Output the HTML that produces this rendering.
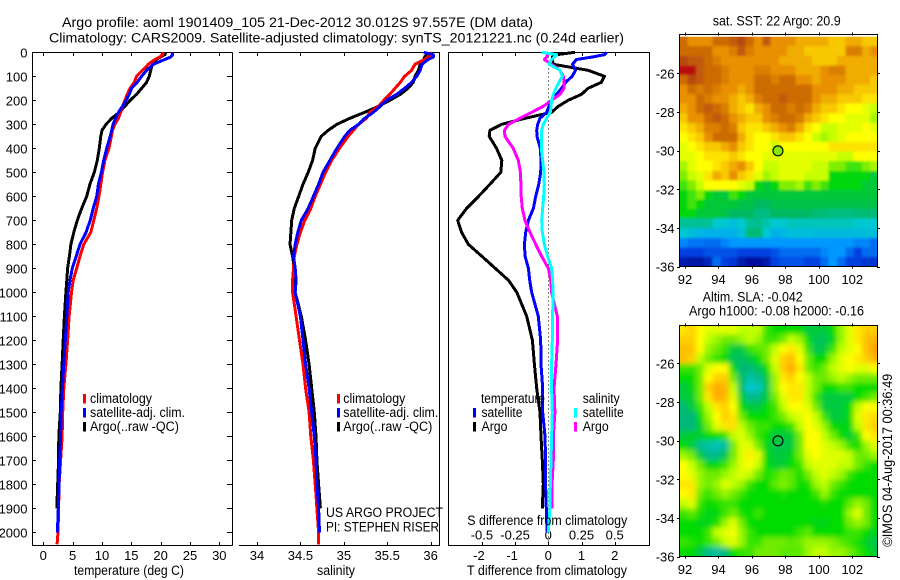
<!DOCTYPE html>
<html lang="en">
<head>
<meta charset="utf-8">
<title>Argo profile 1901409_105</title>
<style>
html,body{margin:0;padding:0;background:#fff;width:900px;height:580px;overflow:hidden}
svg{display:block}
text{font-family:"Liberation Sans",sans-serif;font-size:13.5px;fill:#000}
.tick{font-size:13px}
</style>
</head>
<body>
<svg id="chart" xmlns="http://www.w3.org/2000/svg" width="900" height="580" viewBox="0 0 900 580">
<defs>
<clipPath id="sstClip"><rect x="680" y="36.7" width="197.5" height="229.8"/></clipPath>
<clipPath id="slaClip"><rect x="680" y="325" width="197.5" height="231.5"/></clipPath>
<filter id="smooth" x="-5%" y="-5%" width="110%" height="110%"><feGaussianBlur stdDeviation="2.6"/></filter>
<filter id="soft" x="-5%" y="-5%" width="110%" height="110%"><feGaussianBlur stdDeviation="1.4"/></filter>
</defs>
<rect width="900" height="580" fill="#fff"/>
<text x="62" y="27" textLength="471" lengthAdjust="spacingAndGlyphs">Argo profile: aoml 1901409_105 21-Dec-2012 30.012S 97.557E (DM data)</text>
<text x="49" y="42.5" textLength="575" lengthAdjust="spacingAndGlyphs">Climatology: CARS2009. Satellite-adjusted climatology: synTS_20121221.nc (0.24d earlier)</text>

<g id="gT"></g>
<g id="gS"></g>
<g id="gD"></g>
<g id="gM1"></g>
<g id="gM2"></g>

<text x="74" y="575" textLength="110" lengthAdjust="spacingAndGlyphs">temperature (deg C)</text>
<text x="317" y="575" textLength="38" lengthAdjust="spacingAndGlyphs">salinity</text>
<text x="467" y="575" textLength="160" lengthAdjust="spacingAndGlyphs">T difference from climatology</text>
<text x="467.3" y="525" textLength="160" lengthAdjust="spacingAndGlyphs">S difference from climatology</text>

<g>
<rect x="83" y="394" width="3" height="9.5" fill="#f00"/>
<text x="90" y="403" textLength="62" lengthAdjust="spacingAndGlyphs">climatology</text>
<rect x="83" y="408" width="3" height="9.5" fill="#00f"/>
<text x="90" y="417" textLength="95" lengthAdjust="spacingAndGlyphs">satellite-adj. clim.</text>
<rect x="83" y="422" width="3" height="9.5" fill="#000"/>
<text x="90" y="431" textLength="89" lengthAdjust="spacingAndGlyphs">Argo(..raw -QC)</text>
</g>
<g>
<rect x="337" y="394" width="3" height="9.5" fill="#f00"/>
<text x="343.3" y="403" textLength="62" lengthAdjust="spacingAndGlyphs">climatology</text>
<rect x="337" y="408" width="3" height="9.5" fill="#00f"/>
<text x="343.3" y="417" textLength="95" lengthAdjust="spacingAndGlyphs">satellite-adj. clim.</text>
<rect x="337" y="422" width="3" height="9.5" fill="#000"/>
<text x="343.3" y="431" textLength="89" lengthAdjust="spacingAndGlyphs">Argo(..raw -QC)</text>
</g>
<text x="326" y="517" textLength="117" lengthAdjust="spacingAndGlyphs">US ARGO PROJECT</text>
<text x="326" y="531.7" textLength="113" lengthAdjust="spacingAndGlyphs">PI: STEPHEN RISER</text>
<g>
<text x="481" y="403" textLength="64" lengthAdjust="spacingAndGlyphs">temperature</text>
<rect x="473" y="408" width="3" height="9.5" fill="#00f"/>
<text x="481.5" y="417" textLength="41" lengthAdjust="spacingAndGlyphs">satellite</text>
<rect x="473" y="422" width="3" height="9.5" fill="#000"/>
<text x="481.5" y="431" textLength="26" lengthAdjust="spacingAndGlyphs">Argo</text>
<text x="582.7" y="403" textLength="37" lengthAdjust="spacingAndGlyphs">salinity</text>
<rect x="574" y="408" width="3" height="9.5" fill="#0ff"/>
<text x="582.7" y="417" textLength="41" lengthAdjust="spacingAndGlyphs">satellite</text>
<rect x="574" y="422" width="3" height="9.5" fill="#f0f"/>
<text x="582.7" y="431" textLength="26" lengthAdjust="spacingAndGlyphs">Argo</text>
</g>
<text x="712.7" y="25.7" textLength="128" lengthAdjust="spacingAndGlyphs">sat. SST: 22 Argo: 20.9</text>
<text x="702.7" y="301.7" textLength="100" lengthAdjust="spacingAndGlyphs">Altim. SLA: -0.042</text>
<text x="689" y="315.7" textLength="175" lengthAdjust="spacingAndGlyphs">Argo h1000: -0.08 h2000: -0.16</text>
<text transform="translate(892,546.7) rotate(-90)" textLength="173" lengthAdjust="spacingAndGlyphs">©IMOS 04-Aug-2017 00:36:49</text>
</svg>
<script>
// ---- profile data ----
const depths = [0,10,20,30,50,75,100,125,150,175,200,225,250,275,300,325,350,400,450,500,550,600,650,700,750,800,850,900,950,1000,1100,1200,1300,1400,1500,1600,1700,1800,1900,2000,2050];
const depthTicks = [0,100,200,300,400,500,600,700,800,900,1000,1100,1200,1300,1400,1500,1600,1700,1800,1900,2000];

const tempClim = [20.45,20.3,19.8,19,17.9,16.9,15.9,15.5,14.8,14.3,13.9,13.5,13.2,12.8,12.2,11.8,11.6,11.2,10.5,10.1,9.8,9.5,9.1,8.6,8.1,6.9,6.25,5.7,5.1,4.8,4.4,4.15,3.85,3.5,3.3,3.2,2.95,2.7,2.6,2.5,2.35];
const tempSat = [22.05,22.05,21.7,20.7,18.75,17.6,16.75,16,15.05,14.65,14.1,13.5,12.8,12.3,11.9,11.65,11.4,10.8,10.3,9.9,9.4,9.1,8.5,8,7.3,6.25,5.6,4.95,4.55,4.25,4,3.75,3.5,3.25,3.05,2.95,2.8,2.7,2.55,2.4];
const tempArgo = [20.85,20.75,19.9,19.3,18.6,18.3,18.05,17.6,16.75,15.9,14.8,13.9,12.95,11.65,10.7,10,9.8,9.55,9.2,8.7,7.95,7.4,6.55,5.8,5.2,4.7,4.45,4.15,4,3.85,3.6,3.4,3.2,3,2.9,2.65,2.6,2.45,2.3];

const salClim = [35.99,36.01,35.97,35.93,35.82,35.78,35.7,35.65,35.59,35.53,35.46,35.4,35.3,35.26,35.17,35.11,35.05,34.95,34.86,34.79,34.73,34.67,34.62,34.55,34.5,34.46,34.43,34.42,34.41,34.41,34.45,34.49,34.53,34.56,34.6,34.62,34.65,34.67,34.69,34.71,34.71];
const salSat = [35.92,36.03,36.03,35.97,35.9,35.88,35.84,35.78,35.7,35.61,35.49,35.42,35.34,35.24,35.17,35.07,35.01,34.92,34.84,34.76,34.71,34.65,34.59,34.51,34.47,34.44,34.42,34.44,34.45,34.44,34.5,34.53,34.56,34.6,34.63,34.66,34.68,34.69,34.71,34.72];
const salArgo = [35.97,35.95,35.93,35.92,35.88,35.86,35.82,35.8,35.74,35.65,35.53,35.4,35.24,35.07,34.92,34.82,34.74,34.67,34.64,34.59,34.53,34.48,34.43,34.4,34.39,34.38,34.41,34.43,34.43,34.44,34.51,34.56,34.6,34.63,34.66,34.68,34.69,34.71,34.73];

const diffTSat = [1.76,1.69,1.31,0.85,0.73,0.82,0.72,0.52,0.4,0.25,0.1,0.02,-0.05,-0.25,-0.32,-0.35,-0.34,-0.24,-0.22,-0.23,-0.29,-0.38,-0.45,-0.6,-0.68,-0.72,-0.7,-0.6,-0.56,-0.5,-0.3,-0.23,-0.22,-0.17,-0.17,-0.1,-0.08,-0.08,-0.06,-0.03];
const diffTArgo = [0.8,0.25,0.12,0.12,0.15,1.2,1.69,1.6,1.2,1,0.6,0.3,0.1,-0.7,-1.4,-1.76,-1.78,-1.56,-1.4,-1.43,-1.76,-2.1,-2.46,-2.73,-2.61,-2.41,-2,-1.6,-1.2,-0.95,-0.65,-0.48,-0.42,-0.35,-0.25,-0.22,-0.18,-0.15,-0.18];
const diffSSat = [-0.05,0.063,0.045,0.025,0.005,0.088,0.106,0.08,0.058,0.038,0.025,0.02,0.015,-0.013,-0.038,-0.05,-0.053,-0.053,-0.043,-0.033,-0.03,-0.035,-0.043,-0.05,-0.045,-0.03,-0.005,0.025,0.033,0.035,0.033,0.03,0.025,0.025,0.03,0.025,0.02,0.015,0.013,0];
const diffSArgo = [-0.013,-0.005,-0.013,-0.03,0.025,0.088,0.113,0.12,0.118,0.088,0.025,-0.038,-0.126,-0.214,-0.3,-0.33,-0.327,-0.264,-0.226,-0.21,-0.206,-0.204,-0.196,-0.176,-0.138,-0.095,-0.05,0,0.018,0.025,0.068,0.07,0.058,0.043,0.05,0.038,0.038,0.028,0.028];

const tempTicks = [0,5,10,15,20,25,30];
const salTicks = [34,34.5,35,35.5,36];
const diffTTicks = [-2,-1,0,1,2];
const diffSTicks = [-0.5,-0.25,0,0.25,0.5];
const diffSTickLabels = ['-0.5','-0.25','0','0.25','0.5'];

// ---- map data (colour-scale level per cell, rows north to south) ----
const lonTicks = [92,94,96,98,100,102];
const latTicks = [-26,-28,-30,-32,-34,-36];
const argoLon = 97.557;
const argoLat = -30.012;

const sstGrid = [
[11,10,10,10,11,11,11.5,12,11,10,11.5,10,10,10,9.5,9.5,9.5,9.5,9,9,9.5,9.5,9,9],
[11,11,11,11,10,10,10.5,11.5,10.5,10,10,10,10,9.5,9.5,9,9,9,9,9,10.5,10.5,9.5,10],
[12,11.5,11.5,11,10.5,10,10,10,10,10,10,10,9.5,9.5,9.5,9.5,9,9,9,9.5,9.5,9.5,9.5,9.5],
[13,13,11.5,11,11,10.5,10,10,10,10.5,10.5,10,10,10,9.5,9.5,9.5,10,10.5,10.5,9.5,9.5,9.5,9.5],
[11,12,11.5,11,11,10.5,10,10,10,11,11,10.5,11,11,10,10,9.5,10,10,10,9.5,9.5,9.5,9],
[10,11,10.5,11,10.5,10,10,9.5,10,11,11,11,11,11,11,11,10,10,10,9.5,9.5,9,9,9],
[10,10,11,10.5,10,10,9.5,9,9.5,10.5,11,11,11.5,11,11,11,10,9.5,9.5,9,9,9,8.5,8.5],
[9.5,10,11,11.5,11,10.5,9.5,9,8.5,9.5,10,11,11,10.5,11,10.5,9.5,9,9,8.5,8,8,7.5,7],
[9,10,10,11,11.5,11,10,9.5,9,9,10,10.5,11,11,10.5,9.5,9,8.5,8,8,7.5,7.5,7.5,6.5],
[8.5,9,9.5,10.5,10.5,11,10.5,9,8.5,8.5,9,9.5,10,10.5,9.5,8.5,8,7,7,7.5,7.5,7.5,8,7.5],
[8,8.5,9,10,11,11,11,9.5,8.5,8,8,8.5,9,9,8.5,8,7,6.5,7,7.5,8,8,8,8],
[7.5,8,8.5,9,9,9.5,10,9,8.5,8,8,7,8,8,8,8,8,8,8.5,8.5,8.5,8.5,8.5,8.5],
[7.5,7.5,8,8.5,8.5,8.5,9,8.5,8,8,7.5,7.5,7.5,7.5,7.5,7.5,7.5,7.5,7.5,7,7,8,8,8],
[6.5,7.5,8,8,8.5,9,9.5,10,9,8,7,7,7.5,7.5,7.5,7.5,7,7,6,6,5.5,5.5,6,6.5],
[6,7,7.5,8.5,9.5,9,10,9,8.5,7.5,6.5,7,7.5,7.5,7.5,7,7,7,5,5,5,5,5,4.5],
[5.5,6,7,8,8,8,8,7.5,7,5,4.5,5,6,6,6.5,5.5,6,5.5,5,5,5,5,4.5,4.5],
[5,5.5,6,5,4.5,4.5,5.5,5,4.5,4.5,4.5,4.5,4.5,4.5,4.5,4.5,4.5,4.5,4.5,4.5,4.5,4.5,4.5,4.5],
[5,5.5,5,4.5,4.5,4.5,4.5,4.3,4.3,4,4,4.3,4.3,4.3,4.3,4.3,4.3,4.3,4.3,4.3,4.3,4.3,4.3,4.3],
[5,5,4.5,4.5,4.5,4.3,4,4,4,3.7,3.7,4,4,4,4,4,3.8,3.8,3.7,3.7,3.7,3.8,3.8,3.8],
[3.5,3.5,3.5,3.5,3,3,2.8,3,3.5,3.6,3.3,3,3,3.2,3.2,3.2,3.2,3.2,3.2,3.2,3.2,3,3,3],
[3,2.8,2.6,2.5,2.5,2.5,2.5,2.8,3.8,3.8,3,2.5,2.6,2.8,2.8,2.8,2.7,2.7,2.7,2.7,2.7,2.7,2.8,2.8],
[1.8,1.6,1.6,1.5,1.5,1.8,2,2,2,2,2,2,2,2,2,2,2,2,2,2,2,1.8,1.8,1.5],
[1,1,1,1.2,1.2,1.2,1.2,1,1,1,1,1.2,1.5,1.5,1.5,1.5,1.5,1.8,2,2,1.5,1,1.5,1.5],
[0.3,0.2,0.2,0.5,1.5,1,0.8,0.3,0.1,0.1,0.3,1,1.2,1.2,1.2,1,1,1.5,2,1.5,1,1,0.8,0.8]
];

const slaGrid = [
[8.5,9,8,7.5,7.5,7.5,7.5,7,7,7,5.5,5,5,5,5,4.5,4.5,4.5,5,6.5,7.5,8.5,9,9],
[9,9,8,7,6.5,6,6,6.5,7,6.5,5.5,5.5,6,7,6.5,5,4.3,4.3,4.8,6.5,7.5,8.5,9.3,9.5],
[9.3,9.3,8,6.5,6,5.5,4.5,4.5,5.5,5.8,6,7,8,8.5,7.5,5.5,4.3,4.5,5.5,7,7.5,8,9.3,9.8],
[9.3,9,7,6,5.5,5,4.3,4.2,4.5,5,6,7.5,9,9.3,8,6,5,5,6.5,7.5,8,8.5,9,9.5],
[5.5,5.5,6,7.5,8,8,5,4,4,4.3,5,7,9,9.7,8.5,6,5.5,6,7,7.5,8,7.5,7.5,8],
[5,5,6,8,9,9,6,4.2,3.5,3.7,4.5,6.5,8.5,9,8,7,6,6,6.5,7,6.5,6,6,6],
[4.5,4.8,6,9,9.7,9.5,7,4.2,3,3.2,4.3,6.5,8,8.5,8.5,7,6,5,5,5.5,5.5,5,5,5],
[4.5,4.6,6,8.5,9.7,9.5,7.5,4.6,3.8,3.9,4.5,6,7.5,8.5,8.5,7,5.5,4.5,4.5,4.5,4.5,5,5.5,6],
[4,4.5,5.5,7,8.5,9,8,5,4.5,4.5,5,5.5,7,8,8,7.5,6,4.5,4.5,4.5,5,7,8,8],
[4,4,5,6.5,8,9,8.5,6,5,5,5,5.5,6,7,7.5,8,7,5.5,4.5,4.5,5,7.5,8.5,8.7],
[4,4,4.6,6,7.5,8.5,8.7,7,6,5.5,5.5,5,5,5.5,7,8,7.5,6.5,5,4.8,4.8,7,8.5,9],
[4.5,4.7,4.6,5,5,5.5,7,7.5,6.5,5.5,5,4.5,4.5,4.6,6,8,8,7,6,5,4.6,5.5,8,8.5],
[5,4.5,3.7,3.5,3.3,3.6,6,7.5,7.5,6,4.8,4.4,4.4,4.5,6,8,8,7.5,7,6.5,5.5,5,6.5,7.5],
[6.5,6,4.5,3.8,3.8,4.4,6,7.5,8.3,7.5,4.9,4.5,4.5,4.8,6,7.5,8,7.5,7.5,7.5,7,6,6,6.5],
[8,7,6,4.9,4.9,5.5,6.5,7.5,8,7,5,4.6,4.6,5,5.5,7,7.5,7.5,7.5,7,7,6,5.5,5],
[8,7.5,6.5,6,6,6.5,7,7.5,7,6,5.2,5.5,6,5.8,5.2,6,7,7.5,7,6.5,5.5,5,5,5],
[8.5,8.5,6.5,6,6.5,7.5,7,6.5,5.5,5,5,5.8,6.2,5.8,5,5.2,6.5,7,6,5.5,5,5,5,5],
[8,8.5,6,5.5,6,6.5,6,5.5,5,5,5,5,5.2,5,5,5,5.5,6.5,5.5,5,5,5,5,5],
[7,7.5,5.5,5,5.2,5.5,5.5,5,5,5,5,5,5,5,5,5,5,5.2,5,5,5.8,6.5,6,5],
[5.5,5.8,5.2,4.8,4.9,5.5,6,5.2,5,5.5,5,5,5,5,5,5,5,5,5,5,6.5,7.5,6,5],
[5,5,4.8,4.8,5.2,6.5,7.5,6,5,5,5,5,5,5,5,5,4.8,4.8,5,5,6,6.5,6,5],
[5,5,5,5.5,7,7.5,7.8,6.5,5.5,5,5,5,5,5,5.5,5.8,5,5,5,5,5.5,5.5,5,4.7],
[5.5,5.3,5,5.5,6,7,7.5,6.5,5.5,5.5,6,6,6,5.8,6,6.5,6.5,6.5,6.2,5.8,5.5,5.2,4.7,4.4],
[5,5,4.5,3.8,3.5,4,5,5.5,5.5,6,6,6,5.8,5.8,5.8,6.5,7,7,6.5,6.5,6,5.5,5,4.6]
];

const sstColours = ['#000a96','#0040e0','#0098ff','#00c8d0','#00b860','#00d810','#80ee00','#c8ff00','#ffff00','#f8c800','#e89000','#cc6c00','#b84810','#b81010'];
const slaColours = ['#000a96','#0040e0','#0098ff','#00c8d0','#00b878','#00dc00','#70ec00','#c0ff00','#ffff00','#ffd000','#ff9c00','#d87000','#c04010','#c01010'];

// ---- helpers ----
const NS = 'http://www.w3.org/2000/svg';
function make(parent, tag, name, attrs, txt) {
  const el = document.createElementNS(NS, tag);
  
  
  for (const k in attrs) el.setAttribute(k, attrs[k]);
  if (txt !== undefined) el.textContent = txt;
  parent.appendChild(el);
  return el;
}
function hexToRgb(h) {
  return [parseInt(h.slice(1,3),16), parseInt(h.slice(3,5),16), parseInt(h.slice(5,7),16)];
}
function levelColour(v, scale) {
  const t = Math.max(0, Math.min(scale.length - 1, v));
  const i = Math.min(scale.length - 2, Math.floor(t));
  const a = hexToRgb(scale[i]);
  const b = hexToRgb(scale[i + 1]);
  const f = t - i;
  return 'rgb(' + a.map((c, k) => Math.round(c + (b[k] - c) * f)).join(',') + ')';
}
const plotTop = 52.5;
const plotBottom = 545.5;
const yDepth = d => 52.3 + 0.24 * d;
const xTemp = t => 43.3 + 5.867 * t;
const xSal = s => 257 + 86.83 * (s - 34);
const xDT = t => 548.3 + 33.2 * t;
const xDS = s => 548.3 + 132.8 * s;

function line(parent, name, x1, y1, x2, y2, width) {
  return make(parent, 'line', name, {x1: x1, y1: y1, x2: x2, y2: y2, stroke: '#000', 'stroke-width': width || 1, 'shape-rendering': 'crispEdges'});
}
function profile(parent, name, values, xFn, colour, width) {
  const pts = values.map((v, i) => xFn(v).toFixed(1) + ',' + yDepth(depths[i]).toFixed(1)).join(' ');
  make(parent, 'polyline', name, {points: pts, fill: 'none', stroke: colour, 'stroke-width': width || 3, 'stroke-linejoin': 'round', 'shape-rendering': 'crispEdges'});
}
function label(parent, name, x, y, anchor, txt) {
  make(parent, 'text', name, {x: x, y: y, 'text-anchor': anchor, class: 'tick'}, txt);
}

// ---- temperature panel ----
const gT = document.getElementById('gT');
line(gT, 'top-border', 32, plotTop, 232.5, plotTop);
line(gT, 'bottom-border', 32, plotBottom, 232.5, plotBottom);
line(gT, 'left-border', 32.5, plotTop, 32.5, plotBottom);
line(gT, 'right-border', 232.5, plotTop, 232.5, plotBottom);
depthTicks.forEach(d => {
  const y = Math.round(yDepth(d)) + 0.5;
  line(gT, 'depth-tick-left', 32.5, y, 36, y);
  line(gT, 'depth-tick-right', 227, y, 232.5, y);
  label(gT, 'depth-tick-label', 27.5, yDepth(d) + 5, 'end', String(d));
});
tempTicks.forEach(t => {
  const x = Math.round(xTemp(t)) + 0.5;
  line(gT, 'temperature-tick-top', x, plotTop, x, plotTop + 3.5);
  line(gT, 'temperature-tick-bottom', x, plotBottom - 3.5, x, plotBottom);
  label(gT, 'temperature-tick-label', xTemp(t), 560, 'middle', String(t));
});
profile(gT, 'temperature-argo-line', tempArgo, xTemp, '#000');
profile(gT, 'temperature-climatology-line', tempClim, xTemp, '#f00');
profile(gT, 'temperature-satellite-line', tempSat, xTemp, '#00f');

// ---- salinity panel ----
const gS = document.getElementById('gS');
line(gS, 'top-border', 239, plotTop, 440, plotTop);
line(gS, 'bottom-border', 239, plotBottom, 440, plotBottom);
line(gS, 'right-border', 439.5, plotTop, 439.5, plotBottom);
salTicks.forEach(s => {
  const x = Math.round(xSal(s)) + 0.5;
  line(gS, 'salinity-tick-top', x, plotTop, x, plotTop + 3.5);
  line(gS, 'salinity-tick-bottom', x, plotBottom - 3.5, x, plotBottom);
  label(gS, 'salinity-tick-label', xSal(s), 560, 'middle', String(s));
});
profile(gS, 'salinity-argo-line', salArgo, xSal, '#000');
profile(gS, 'salinity-climatology-line', salClim, xSal, '#f00');
profile(gS, 'salinity-satellite-line', salSat, xSal, '#00f');

// ---- difference panel ----
const gD = document.getElementById('gD');
line(gD, 'top-border', 448, plotTop, 650, plotTop);
line(gD, 'bottom-border', 448, plotBottom, 650, plotBottom);
line(gD, 'left-border', 448.5, plotTop, 448.5, plotBottom);
line(gD, 'right-border', 649.5, plotTop, 649.5, plotBottom);
make(gD, 'line', 'zero-line', {x1: 548.5, y1: plotTop, x2: 548.5, y2: plotBottom, stroke: '#000', 'stroke-width': 1, 'stroke-dasharray': '1 3', 'shape-rendering': 'crispEdges'});
diffTTicks.forEach(t => {
  const x = Math.round(xDT(t)) + 0.5;
  line(gD, 't-difference-tick-top', x, plotTop, x, plotTop + 3.5);
  line(gD, 't-difference-tick-bottom', x, plotBottom - 3.5, x, plotBottom);
  label(gD, 't-difference-tick-label', xDT(t) - (t < 0 ? 3 : 0), 560, 'middle', String(t));
});
diffSTicks.forEach((s, i) => {
  label(gD, 's-difference-tick-label', xDS(s), 539.3, 'middle', diffSTickLabels[i]);
});
profile(gD, 't-difference-argo-line', diffTArgo, xDT, '#000');
profile(gD, 't-difference-satellite-line', diffTSat, xDT, '#00f');
profile(gD, 's-difference-argo-line', diffSArgo, xDS, '#f0f');
profile(gD, 's-difference-satellite-line', diffSSat, xDS, '#0ff');

// ---- maps ----
const xLon = lon => 685 + 16.73 * (lon - 92);
function drawMap(host, grid, opts) {
  const yLat = lat => opts.y26 + 19.33 * (-26 - lat);
  const clip = make(host, 'g', 'map-clip', {'clip-path': 'url(#' + opts.clip + ')'});
  const layer = make(clip, 'g', 'map-cells', {filter: 'url(#' + opts.blur + ')'});
  const ext = 10;
  grid.forEach((row, r) => {
    row.forEach((v, c) => {
      let x0 = xLon(91.66 + c * 0.496);
      let x1 = xLon(91.66 + (c + 1) * 0.496);
      let y0 = yLat(opts.lat0 - r * opts.dLat);
      let y1 = yLat(opts.lat0 - (r + 1) * opts.dLat);
      if (c === 0) x0 -= ext;
      if (c === row.length - 1) x1 += ext;
      if (r === 0) y0 -= ext;
      if (r === grid.length - 1) y1 += ext;
      const cell = document.createElementNS(NS, 'rect');
      
      
      cell.setAttribute('x', x0.toFixed(2));
      cell.setAttribute('y', y0.toFixed(2));
      cell.setAttribute('width', (x1 - x0 + 0.6).toFixed(2));
      cell.setAttribute('height', (y1 - y0 + 0.6).toFixed(2));
      cell.setAttribute('fill', levelColour(v, opts.scale));
      cell.setAttribute('shape-rendering', 'crispEdges');
      layer.appendChild(cell);
    });
  });
  make(host, 'rect', 'map-frame', {x: 679.5, y: opts.top, width: 198, height: opts.bottom - opts.top, fill: 'none', stroke: '#000', 'stroke-width': 1, 'shape-rendering': 'crispEdges'});
  lonTicks.forEach(lon => {
    const x = Math.round(xLon(lon)) + 0.5;
    line(host, 'longitude-tick-top', x, opts.top - 2, x, opts.top + 1);
    line(host, 'longitude-tick-bottom', x, opts.bottom - 1, x, opts.bottom + 2);
    label(host, 'longitude-tick-label', xLon(lon), opts.labelY, 'middle', String(lon));
  });
  latTicks.forEach(lat => {
    const y = Math.round(yLat(lat)) + 0.5;
    line(host, 'latitude-tick-left', 677, y, 680, y);
    line(host, 'latitude-tick-right', 877, y, 880, y);
    label(host, 'latitude-tick-label', 674.5, yLat(lat) + 5, 'end', String(lat));
  });
  make(host, 'circle', 'argo-position-marker', {cx: xLon(argoLon), cy: yLat(argoLat), r: 5, fill: opts.marker, stroke: '#000', 'stroke-width': 1.1});
}
drawMap(document.getElementById('gM1'), sstGrid, {clip: 'sstClip', y26: 73.3, lat0: -24.1, dLat: 0.496, top: 34.5, bottom: 266.5, labelY: 284, blur: 'soft', scale: sstColours, marker: '#88e800'});
drawMap(document.getElementById('gM2'), slaGrid, {clip: 'slaClip', y26: 363.3, lat0: -24, dLat: 0.5, top: 325.5, bottom: 556.5, labelY: 574, blur: 'smooth', scale: slaColours, marker: 'none'});
</script>
</body>
</html>
